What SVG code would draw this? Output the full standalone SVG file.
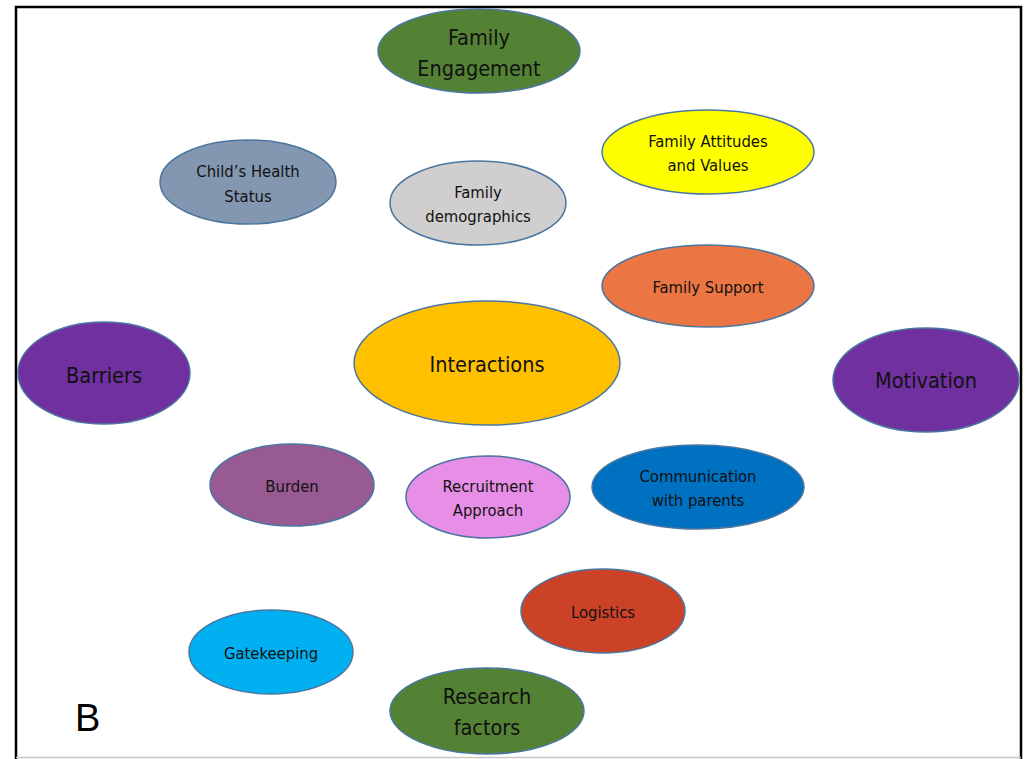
<svg xmlns="http://www.w3.org/2000/svg" width="1027" height="759" viewBox="0 0 1027 759">
  <style>
    .n ellipse { stroke: #4a76a0; stroke-width: 1.5; }
    .n text { font-family: "Liberation Sans Narrow", "DejaVu Sans Condensed", "Liberation Sans", sans-serif; fill: #111; text-anchor: middle; dominant-baseline: central; }
    .s text { font-size: 16.5px; }
    .l text { font-size: 21.5px; }
  </style>
  <rect width="1027" height="759" fill="#ffffff"/>
  <!-- frame -->
  <path d="M16 759 V7 H1021 V759" fill="none" stroke="#000" stroke-width="2.5"/>
  <line x1="16" y1="757.5" x2="1021" y2="757.5" stroke="#c8c8c8" stroke-width="1.5"/>

  <g id="connectors"></g>

  <g id="family-engagement" class="n l">
    <ellipse cx="479" cy="51" rx="101" ry="42" fill="#548235"/>
    <text x="479" y="37">Family</text>
    <text x="479" y="68">Engagement</text>
  </g>
  <g id="childs-health" class="n s">
    <ellipse cx="248" cy="182" rx="88" ry="42" fill="#8497b0"/>
    <text x="248" y="171">Child’s Health</text>
    <text x="248" y="196">Status</text>
  </g>
  <g id="family-demographics" class="n s">
    <ellipse cx="478" cy="203" rx="88" ry="42" fill="#d0cece"/>
    <text x="478" y="192">Family</text>
    <text x="478" y="216">demographics</text>
  </g>
  <g id="family-attitudes" class="n s">
    <ellipse cx="708" cy="152" rx="106" ry="42" fill="#ffff00"/>
    <text x="708" y="141">Family Attitudes</text>
    <text x="708" y="165">and Values</text>
  </g>
  <g id="family-support" class="n s">
    <ellipse cx="708" cy="286" rx="106" ry="41" fill="#eb7543"/>
    <text x="708" y="287">Family Support</text>
  </g>
  <g id="interactions" class="n l">
    <ellipse cx="487" cy="363" rx="133" ry="62" fill="#ffc000"/>
    <text x="487" y="364">Interactions</text>
  </g>
  <g id="barriers" class="n l">
    <ellipse cx="104" cy="373" rx="86" ry="51" fill="#7030a0"/>
    <text x="104" y="375">Barriers</text>
  </g>
  <g id="motivation" class="n l">
    <ellipse cx="926" cy="380" rx="93" ry="52" fill="#7030a0"/>
    <text x="926" y="380">Motivation</text>
  </g>
  <g id="burden" class="n s">
    <ellipse cx="292" cy="485" rx="82" ry="41" fill="#985a92"/>
    <text x="292" y="486">Burden</text>
  </g>
  <g id="recruitment" class="n s">
    <ellipse cx="488" cy="497" rx="82" ry="41" fill="#e78fe6"/>
    <text x="488" y="486">Recruitment</text>
    <text x="488" y="510">Approach</text>
  </g>
  <g id="communication" class="n s">
    <ellipse cx="698" cy="487" rx="106" ry="42" fill="#0070c0"/>
    <text x="698" y="476">Communication</text>
    <text x="698" y="500">with parents</text>
  </g>
  <g id="logistics" class="n s">
    <ellipse cx="603" cy="611" rx="82" ry="42" fill="#cb4226"/>
    <text x="603" y="612">Logistics</text>
  </g>
  <g id="gatekeeping" class="n s">
    <ellipse cx="271" cy="652" rx="82" ry="42" fill="#00b0f0"/>
    <text x="271" y="653">Gatekeeping</text>
  </g>
  <g id="research-factors" class="n l">
    <ellipse cx="487" cy="711" rx="97" ry="43" fill="#548235"/>
    <text x="487" y="696">Research</text>
    <text x="487" y="727">factors</text>
  </g>

  <text x="75" y="731" font-family="Liberation Sans, sans-serif" font-size="38" fill="#000">B</text>
</svg>
